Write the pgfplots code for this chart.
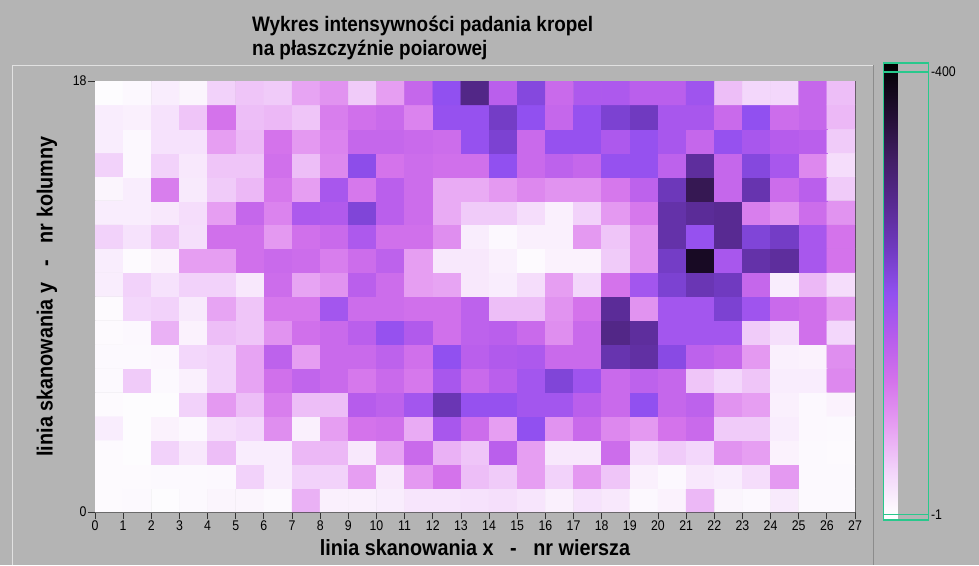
\documentclass[border=0pt]{standalone}
\usepackage{fontspec}
\setmainfont{Liberation Sans}
\newfontfamily\tickfont[FakeStretch=0.88]{Liberation Sans}
\newfontfamily\titlefont[FakeStretch=0.9]{Liberation Sans}
\usepackage{pgfplots}
\pgfplotsset{compat=1.18}
\definecolor{bg}{RGB}{180,180,180}
\definecolor{cbgreen}{RGB}{40,200,140}
\begin{document}
\begin{tikzpicture}[x=1pt,y=1pt]
\path[use as bounding box] (0,0) rectangle (979,-565);
\fill[bg] (0,0) rectangle (979,-565);
\draw[white!60!bg, line width=1pt] (12,-565) -- (12,-65) -- (873,-65);
\draw[black!45, line width=1pt] (873,-65) -- (873,-565);
\node[anchor=base west, align=left, font=\titlefont\fontsize{21}{23.5}\selectfont\bfseries, inner sep=0] at (252,-55) {Wykres intensywności padania kropel\\na płaszczyźnie poiarowej};
\begin{axis}[
  scale only axis, width=760pt, height=431pt,
  at={(95pt,-512pt)}, anchor=south west,
  xmin=-0.5, xmax=26.5, ymin=-0.5, ymax=17.5,
  xtick={-0.5,0.5,...,26.5},
  xticklabels={0,1,2,3,4,5,6,7,8,9,10,11,12,13,14,15,16,17,18,19,20,21,22,23,24,25,26,27},
  ytick={-0.5,17.5}, yticklabels={0,18},
  tick pos=left, tick align=outside, major tick length=7pt,
  tick style={black!80, line width=0.8pt},
  ticklabel style={font=\tickfont\fontsize{14}{14}\selectfont},
  /pgf/number format/assume math mode=true,
  xticklabel style={yshift=2pt},
  yticklabel style={xshift=2pt},
  axis line style={black!75, line width=0.8pt},
  xlabel={linia skanowania x~~~-~~~nr wiersza},
  ylabel={linia skanowania y~~~-~~~nr kolumny},
  label style={font=\titlefont\fontsize{22}{24}\selectfont\bfseries},
  xlabel style={at={(rel axis cs:0.5,0)}, anchor=center, yshift=-36pt},
  ylabel style={at={(rel axis cs:0,0.5)}, anchor=center, yshift=48pt},
  colormap={lv}{rgb255(0pt)=(255,255,255); rgb255(8pt)=(253,251,254); rgb255(46pt)=(242,210,250); rgb255(86pt)=(230,158,242); rgb255(126pt)=(212,115,235); rgb255(166pt)=(182,92,236); rgb255(206pt)=(145,80,240); rgb255(246pt)=(112,58,192); rgb255(286pt)=(88,42,146); rgb255(326pt)=(66,30,102); rgb255(366pt)=(35,14,52); rgb255(414pt)=(0,0,0)},
  point meta min=-6, point meta max=408,
  colorbar,
  colorbar style={scale only axis, at={(875pt,-63pt)}, anchor=north west,
    width=45pt, height=457pt,
    ytick={-1,400}, yticklabels={-1,-400}, yticklabel pos=right, major tick length=0pt,
    yticklabel style={font=\tickfont\fontsize{14}{14}\selectfont, xshift=-1pt},
    axis line style={cbgreen, line width=1.5pt},
    ymajorgrids, grid style={cbgreen, line width=1.5pt}, axis on top},
]
\addplot[matrix plot*, mesh/cols=27, point meta=explicit] table[row sep=\\, meta=c] {
x y c\\
0 0 3\\ 1 0 4\\ 2 0 0\\ 3 0 4\\ 4 0 8\\ 5 0 8\\ 6 0 4\\ 7 0 65\\ 8 0 12\\ 9 0 12\\ 10 0 15\\ 11 0 22\\ 12 0 22\\ 13 0 25\\ 14 0 28\\ 15 0 22\\ 16 0 12\\ 17 0 25\\ 18 0 20\\ 19 0 5\\ 20 0 10\\ 21 0 60\\ 22 0 8\\ 23 0 5\\ 24 0 18\\ 25 0 4\\ 26 0 4\\
0 1 3\\ 1 1 3\\ 2 1 4\\ 3 1 4\\ 4 1 5\\ 5 1 40\\ 6 1 15\\ 7 1 40\\ 8 1 40\\ 9 1 80\\ 10 1 20\\ 11 1 85\\ 12 1 120\\ 13 1 55\\ 14 1 45\\ 15 1 80\\ 16 1 40\\ 17 1 85\\ 18 1 50\\ 19 1 12\\ 20 1 5\\ 21 1 20\\ 22 1 15\\ 23 1 30\\ 24 1 85\\ 25 1 4\\ 26 1 4\\
0 2 3\\ 1 2 0\\ 2 2 40\\ 3 2 20\\ 4 2 55\\ 5 2 15\\ 6 2 15\\ 7 2 60\\ 8 2 60\\ 9 2 20\\ 10 2 75\\ 11 2 135\\ 12 2 65\\ 13 2 50\\ 14 2 155\\ 15 2 80\\ 16 2 20\\ 17 2 20\\ 18 2 130\\ 19 2 30\\ 20 2 45\\ 21 2 35\\ 22 2 90\\ 23 2 80\\ 24 2 10\\ 25 2 4\\ 26 2 3\\
0 3 15\\ 1 3 0\\ 2 3 10\\ 3 3 5\\ 4 3 30\\ 5 3 35\\ 6 3 95\\ 7 3 12\\ 8 3 80\\ 9 3 120\\ 10 3 125\\ 11 3 70\\ 12 3 175\\ 13 3 130\\ 14 3 80\\ 15 3 200\\ 16 3 90\\ 17 3 135\\ 18 3 100\\ 19 3 85\\ 20 3 120\\ 21 3 135\\ 22 3 45\\ 23 3 45\\ 24 3 15\\ 25 3 5\\ 26 3 4\\
0 4 3\\ 1 4 0\\ 2 4 0\\ 3 4 40\\ 4 4 85\\ 5 4 55\\ 6 4 110\\ 7 4 55\\ 8 4 55\\ 9 4 160\\ 10 4 150\\ 11 4 180\\ 12 4 250\\ 13 4 195\\ 14 4 195\\ 15 4 180\\ 16 4 180\\ 17 4 155\\ 18 4 135\\ 19 4 200\\ 20 4 140\\ 21 4 150\\ 22 4 90\\ 23 4 80\\ 24 4 12\\ 25 4 5\\ 26 4 10\\
0 5 4\\ 1 5 45\\ 2 5 4\\ 3 5 12\\ 4 5 40\\ 5 5 75\\ 6 5 125\\ 7 5 145\\ 8 5 135\\ 9 5 115\\ 10 5 135\\ 11 5 115\\ 12 5 175\\ 13 5 135\\ 14 5 155\\ 15 5 180\\ 16 5 220\\ 17 5 185\\ 18 5 135\\ 19 5 150\\ 20 5 140\\ 21 5 50\\ 22 5 35\\ 23 5 50\\ 24 5 15\\ 25 5 15\\ 26 5 100\\
0 6 4\\ 1 6 4\\ 2 6 6\\ 3 6 35\\ 4 6 40\\ 5 6 75\\ 6 6 150\\ 7 6 80\\ 8 6 135\\ 9 6 135\\ 10 6 150\\ 11 6 125\\ 12 6 200\\ 13 6 155\\ 14 6 165\\ 15 6 170\\ 16 6 135\\ 17 6 135\\ 18 6 255\\ 19 6 265\\ 20 6 210\\ 21 6 150\\ 22 6 140\\ 23 6 85\\ 24 6 12\\ 25 6 10\\ 26 6 95\\
0 7 3\\ 1 7 5\\ 2 7 65\\ 3 7 10\\ 4 7 55\\ 5 7 50\\ 6 7 90\\ 7 7 125\\ 8 7 135\\ 9 7 155\\ 10 7 195\\ 11 7 165\\ 12 7 125\\ 13 7 150\\ 14 7 155\\ 15 7 135\\ 16 7 95\\ 17 7 135\\ 18 7 290\\ 19 7 270\\ 20 7 180\\ 21 7 180\\ 22 7 180\\ 23 7 45\\ 24 7 28\\ 25 7 125\\ 26 7 35\\
0 8 3\\ 1 8 35\\ 2 8 40\\ 3 8 18\\ 4 8 75\\ 5 8 50\\ 6 8 115\\ 7 8 115\\ 8 8 180\\ 9 8 130\\ 10 8 130\\ 11 8 125\\ 12 8 125\\ 13 8 150\\ 14 8 55\\ 15 8 55\\ 16 8 90\\ 17 8 120\\ 18 8 275\\ 19 8 90\\ 20 8 180\\ 21 8 180\\ 22 8 225\\ 23 8 185\\ 24 8 135\\ 25 8 125\\ 26 8 85\\
0 9 15\\ 1 9 40\\ 2 9 25\\ 3 9 40\\ 4 9 40\\ 5 9 20\\ 6 9 130\\ 7 9 75\\ 8 9 90\\ 9 9 155\\ 10 9 130\\ 11 9 80\\ 12 9 75\\ 13 9 20\\ 14 9 15\\ 15 9 30\\ 16 9 80\\ 17 9 35\\ 18 9 120\\ 19 9 180\\ 20 9 225\\ 21 9 250\\ 22 9 240\\ 23 9 140\\ 24 9 15\\ 25 9 60\\ 26 9 30\\
0 10 15\\ 1 10 3\\ 2 10 10\\ 3 10 80\\ 4 10 80\\ 5 10 125\\ 6 10 135\\ 7 10 130\\ 8 10 110\\ 9 10 130\\ 10 10 150\\ 11 10 80\\ 12 10 20\\ 13 10 20\\ 14 10 12\\ 15 10 3\\ 16 10 10\\ 17 10 10\\ 18 10 45\\ 19 10 90\\ 20 10 235\\ 21 10 375\\ 22 10 175\\ 23 10 260\\ 24 10 270\\ 25 10 175\\ 26 10 120\\
0 11 40\\ 1 11 25\\ 2 11 50\\ 3 11 28\\ 4 11 125\\ 5 11 125\\ 6 11 85\\ 7 11 125\\ 8 11 135\\ 9 11 170\\ 10 11 125\\ 11 11 125\\ 12 11 95\\ 13 11 15\\ 14 11 5\\ 15 11 12\\ 16 11 12\\ 17 11 85\\ 18 11 50\\ 19 11 90\\ 20 11 260\\ 21 11 195\\ 22 11 280\\ 23 11 220\\ 24 11 235\\ 25 11 175\\ 26 11 120\\
0 12 15\\ 1 12 15\\ 2 12 20\\ 3 12 30\\ 4 12 80\\ 5 12 140\\ 6 12 105\\ 7 12 170\\ 8 12 165\\ 9 12 220\\ 10 12 155\\ 11 12 130\\ 12 12 70\\ 13 12 45\\ 14 12 45\\ 15 12 30\\ 16 12 12\\ 17 12 40\\ 18 12 85\\ 19 12 115\\ 20 12 260\\ 21 12 275\\ 22 12 280\\ 23 12 110\\ 24 12 90\\ 25 12 130\\ 26 12 90\\
0 13 8\\ 1 13 15\\ 2 13 110\\ 3 13 18\\ 4 13 45\\ 5 13 60\\ 6 13 115\\ 7 13 80\\ 8 13 175\\ 9 13 115\\ 10 13 155\\ 11 13 130\\ 12 13 70\\ 13 13 70\\ 14 13 85\\ 15 13 100\\ 16 13 90\\ 17 13 90\\ 18 13 115\\ 19 13 150\\ 20 13 245\\ 21 13 335\\ 22 13 140\\ 23 13 255\\ 24 13 130\\ 25 13 155\\ 26 13 45\\
0 14 40\\ 1 14 5\\ 2 14 40\\ 3 14 20\\ 4 14 50\\ 5 14 50\\ 6 14 125\\ 7 14 55\\ 8 14 100\\ 9 14 205\\ 10 14 120\\ 11 14 130\\ 12 14 125\\ 13 14 125\\ 14 14 200\\ 15 14 135\\ 16 14 150\\ 17 14 140\\ 18 14 195\\ 19 14 195\\ 20 14 150\\ 21 14 270\\ 22 14 140\\ 23 14 215\\ 24 14 175\\ 25 14 100\\ 26 14 30\\
0 15 15\\ 1 15 5\\ 2 15 25\\ 3 15 25\\ 4 15 80\\ 5 15 60\\ 6 15 120\\ 7 15 85\\ 8 15 105\\ 9 15 140\\ 10 15 140\\ 11 15 135\\ 12 15 130\\ 13 15 195\\ 14 15 225\\ 15 15 135\\ 16 15 195\\ 17 15 195\\ 18 15 170\\ 19 15 195\\ 20 15 175\\ 21 15 140\\ 22 15 195\\ 23 15 175\\ 24 15 160\\ 25 15 155\\ 26 15 45\\
0 16 15\\ 1 16 12\\ 2 16 25\\ 3 16 50\\ 4 16 120\\ 5 16 55\\ 6 16 60\\ 7 16 50\\ 8 16 110\\ 9 16 125\\ 10 16 135\\ 11 16 105\\ 12 16 195\\ 13 16 195\\ 14 16 235\\ 15 16 200\\ 16 16 140\\ 17 16 195\\ 18 16 225\\ 19 16 240\\ 20 16 175\\ 21 16 175\\ 22 16 135\\ 23 16 200\\ 24 16 130\\ 25 16 140\\ 26 16 60\\
0 17 0\\ 1 17 5\\ 2 17 15\\ 3 17 8\\ 4 17 40\\ 5 17 50\\ 6 17 45\\ 7 17 75\\ 8 17 90\\ 9 17 45\\ 10 17 80\\ 11 17 140\\ 12 17 200\\ 13 17 290\\ 14 17 155\\ 15 17 215\\ 16 17 135\\ 17 17 170\\ 18 17 170\\ 19 17 155\\ 20 17 155\\ 21 17 185\\ 22 17 55\\ 23 17 35\\ 24 17 35\\ 25 17 140\\ 26 17 55\\
};
\end{axis}
\end{tikzpicture}
\end{document}
